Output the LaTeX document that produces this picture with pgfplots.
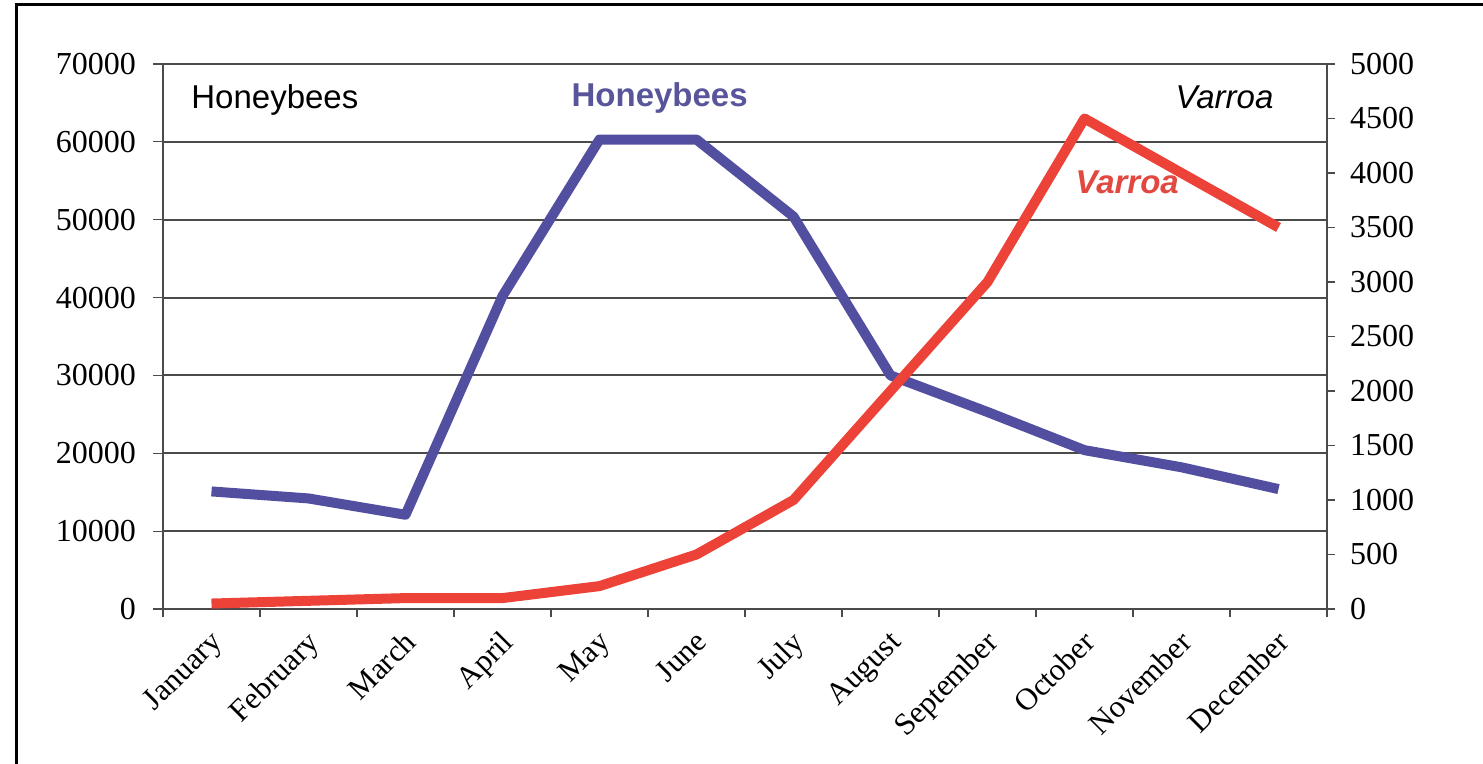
\documentclass[border=0pt]{standalone}
\usepackage{pgfplots}
\pgfplotsset{compat=1.18}
\usepackage{fontspec}
\setmainfont{Liberation Serif}
\newfontfamily\arialfont{Liberation Sans}

\definecolor{beeblue}{RGB}{82,78,160}
\definecolor{mitered}{RGB}{236,66,56}
\definecolor{gridgray}{RGB}{75,75,75}

\begin{document}
\begin{tikzpicture}[x=1pt,y=1pt]
\useasboundingbox (0,0) rectangle (741.5,382);
\draw[line width=1.5pt] (8,-5) -- (8,379.5) -- (760,379.5);

\begin{axis}[
  at={(81.5pt,77.5pt)}, anchor=south west,
  width=582pt, height=272.5pt, scale only axis,
  xmin=0.5, xmax=12.5, ymin=0, ymax=70000,
  xtick={1,...,12},
  xticklabels={January,February,March,April,May,June,July,August,September,October,November,December},
  minor xtick={0.5,1.5,...,12.5},
  major x tick style={draw=none},
  minor x tick style={gridgray, line width=0.6pt},
  ytick={0,10000,...,70000},
  scaled y ticks=false,
  yticklabel style={/pgf/number format/fixed, /pgf/number format/1000 sep={}},
  /pgf/number format/assume math mode=true,
  tick align=outside,
  major tick length=5pt, minor tick length=4pt,
  axis y line*=left, axis x line*=bottom,
  ymajorgrids,
  major grid style={gridgray, line width=1pt},
  axis line style={gridgray, line width=0.7pt, -},
  ytick style={gridgray, line width=0.6pt},
  ticklabel style={font=\fontsize{16}{18}\selectfont, black},
  yticklabel style={xshift=-5pt},
  xticklabel style={rotate=45, anchor=north east, font=\fontsize{15.5}{17}\selectfont, xshift=-1pt, yshift=1pt},
  clip=false,
]
\addplot[beeblue, line width=5pt, line join=round] coordinates {
 (1,15100) (2,14200) (3,12100) (4,40200) (5,60300) (6,60300)
 (7,50400) (8,30000) (9,25300) (10,20400) (11,18200) (12,15400)
};
\node[font=\arialfont\fontsize{16.5}{18}\selectfont, anchor=west] at (axis cs:0.72,65400) {Honeybees};
\node[font=\arialfont\bfseries\fontsize{16.5}{18}\selectfont, text=beeblue!85!gray] at (axis cs:5.62,65700) {Honeybees};
\node[font=\arialfont\itshape\fontsize{16.5}{18}\selectfont, anchor=east] at (axis cs:12.02,65700) {Varroa};
\node[font=\arialfont\bfseries\itshape\fontsize{16.5}{18}\selectfont, text=mitered!90!gray] at (axis cs:10.44,54800) {Varroa};
\end{axis}

\begin{axis}[
  at={(81.5pt,77.5pt)}, anchor=south west,
  width=582pt, height=272.5pt, scale only axis,
  xmin=0.5, xmax=12.5, ymin=0, ymax=5000,
  axis x line=none, axis y line*=right,
  ytick={0,500,...,5000},
  scaled y ticks=false,
  yticklabel style={/pgf/number format/fixed, /pgf/number format/1000 sep={}, xshift=4pt},
  /pgf/number format/assume math mode=true,
  tick align=outside, major tick length=4pt,
  axis line style={gridgray, line width=0.7pt, -},
  ytick style={gridgray, line width=0.6pt},
  ticklabel style={font=\fontsize{16}{18}\selectfont, black},
  clip=false,
]
\addplot[mitered, line width=5pt, line join=round] coordinates {
 (1,50) (2,75) (3,100) (4,100) (5,210) (6,500)
 (7,1000) (8,2000) (9,3000) (10,4500) (11,4000) (12,3500)
};
\end{axis}
\end{tikzpicture}
\end{document}
